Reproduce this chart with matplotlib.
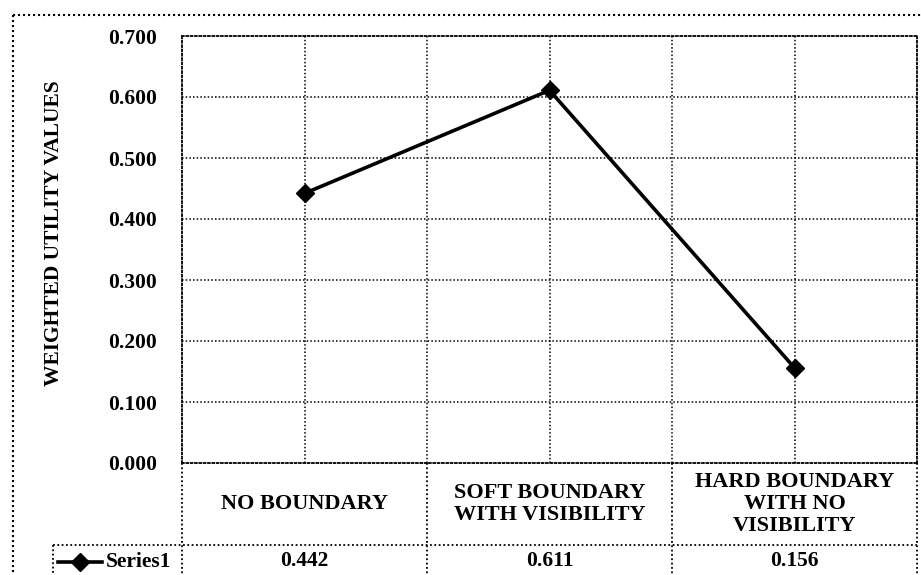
import matplotlib.pyplot as plt
from matplotlib.lines import Line2D

# chart data
categories = ['NO BOUNDARY', 'SOFT BOUNDARY\nWITH VISIBILITY', 'HARD BOUNDARY\nWITH NO\nVISIBILITY']
values = [0.442, 0.611, 0.156]
value_labels = ['0.442', '0.611', '0.156']
series_name = 'Series1'
y_ticks = [0.0, 0.1, 0.2, 0.3, 0.4, 0.5, 0.6, 0.7]

W, H = 921, 575
FONT = 'Liberation Serif'
DOT = (0, (1, 1.4))


def px(x, y):
    # pixel (from top-left) -> figure fraction
    return x / W, 1 - y / H


def main():
    fig = plt.figure(figsize=(W / 100, H / 100), dpi=100)
    fig.patch.set_facecolor('white')

    left, top = px(182, 36)
    right, bottom = px(917, 463)
    ax = fig.add_axes([left, bottom, right - left, top - bottom])

    n = len(categories)
    x = list(range(n))
    ax.plot(x, values, '-', color='black', lw=2.6, marker='D', ms=9.5, zorder=5)

    ax.set_xlim(-0.5, n - 0.5)
    ax.set_ylim(0, 0.7)
    ax.set_yticks(y_ticks)
    ax.set_yticklabels([f'{t:.3f}' for t in y_ticks], fontfamily=FONT,
                       fontweight='bold', fontsize=15.5)
    ax.tick_params(axis='y', length=0, pad=18)
    ax.set_xticks([])

    # dotted grid, including a line through each category centre
    for t in y_ticks[1:-1]:
        ax.axhline(t, color='black', lw=1.1, ls=DOT, zorder=1)
    for i in range(n):
        ax.axvline(i, color='black', lw=1.1, ls=DOT, zorder=1)
        if i > 0:
            ax.axvline(i - 0.5, color='black', lw=1.1, ls=DOT, zorder=1)
    for s in ax.spines.values():
        s.set_linestyle(DOT)
        s.set_linewidth(1.3)

    ax.set_ylabel('WEIGHTED UTILITY VALUES', fontfamily=FONT, fontweight='bold',
                  fontsize=15.5)
    ax.yaxis.set_label_coords((64 - 182) / (917 - 182), (463 - 233) / (463 - 36))

    # data table under the plot
    row1 = -(545 - 463) / (463 - 36)
    row2 = -(580 - 463) / (463 - 36)
    legend_left = (53 - 182) / (917 - 182)
    tr = ax.transAxes
    kw = dict(color='black', lw=1.3, ls=DOT, transform=tr, clip_on=False)
    for i in range(n + 1):
        fig.add_artist(Line2D([i / n, i / n], [0, row2], **kw))
    fig.add_artist(Line2D([legend_left, 1], [row1, row1], **kw))
    fig.add_artist(Line2D([legend_left, legend_left], [row1, row2], **kw))

    for i, (cat, val) in enumerate(zip(categories, value_labels)):
        xc = (i + 0.5) / n
        ax.text(xc, row1 / 2, cat, transform=tr, ha='center', va='center',
                fontfamily=FONT, fontweight='bold', fontsize=16,
                linespacing=1.15)
        ax.text(xc, (row1 + (-(578 - 463) / (463 - 36))) / 2, val, transform=tr,
                ha='center', va='center', fontfamily=FONT, fontweight='bold',
                fontsize=15.5)

    # legend key in the table
    ky = 1 - 562 / H
    fig.add_artist(Line2D([58 / W, 102 / W], [ky, ky], color='black', lw=2.6))
    fig.add_artist(Line2D([80 / W], [ky], color='black', marker='D', ms=9))
    fig.text(106 / W, ky, series_name, ha='left', va='center', fontfamily=FONT,
             fontweight='bold', fontsize=15.5)

    # outer chart border
    bx, by = px(13, 15)
    fig.add_artist(Line2D([bx, 1], [by, by], color='black', lw=1.5, ls=DOT))
    fig.add_artist(Line2D([bx, bx], [by, 0], color='black', lw=1.5, ls=DOT))

    plt.savefig('out.png', dpi=100)


if __name__ == '__main__':
    main()
